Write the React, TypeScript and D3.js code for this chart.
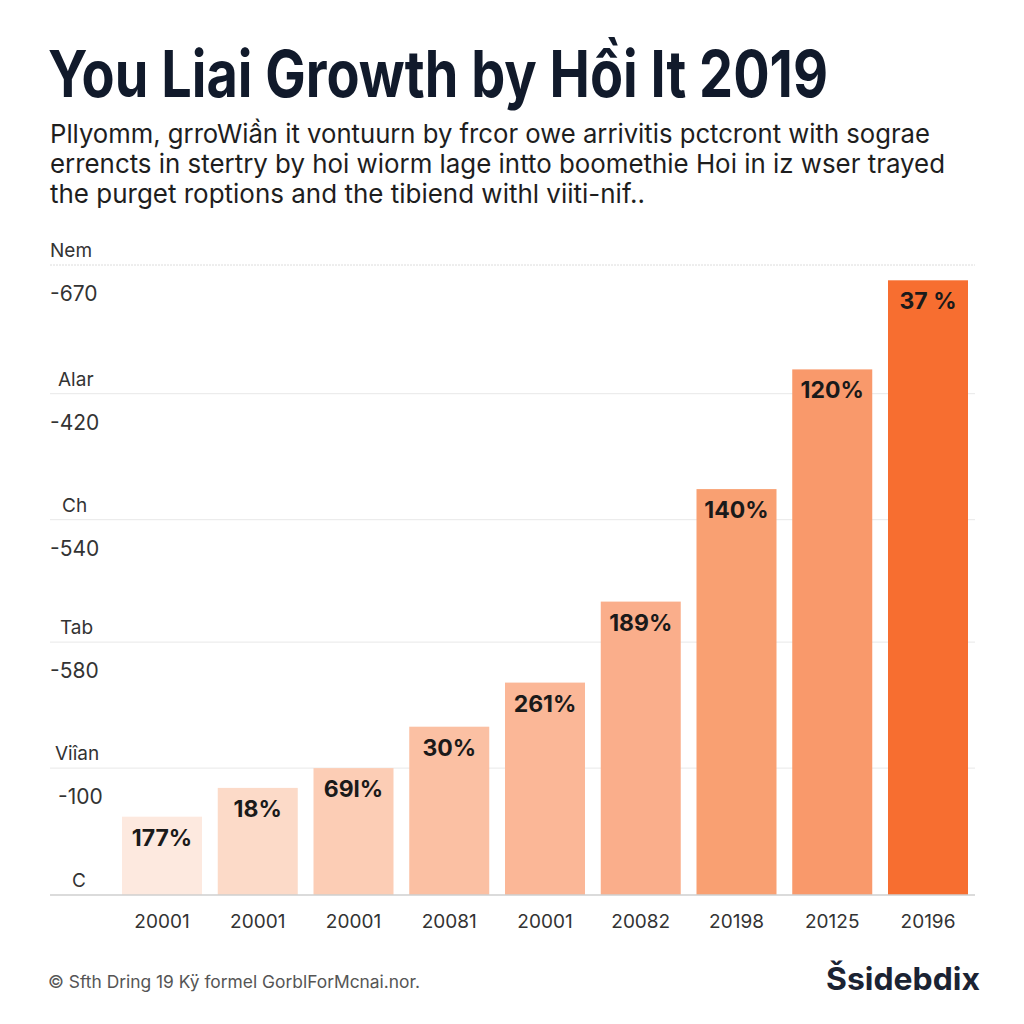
import React from "react";
import * as d3 from "d3";

const categories = ["20001", "20001", "20001", "20081", "20001", "20082", "20198", "20125", "20196"];
const values = [87, 119, 141, 187, 236, 326, 451, 584, 683];
const barLabels = ["177%", "18%", "69l%", "30%", "261%", "189%", "140%", "120%", "37 %"];
const barColors = ["#fde9df", "#fcdac8", "#fccdb5", "#fbc0a3", "#fbb797", "#faae8b", "#f9a072", "#f9996b", "#f76e30"];

const gridValues = [700, 557, 417, 281, 141, 0];
const gridNames = ["Nem", "Alar", "Ch", "Tab", "Viîan", "C"];
const gridNumbers = ["-670", "-420", "-540", "-580", "-100", ""];

const title = "You Liai Growth by Hồi It 2019";
const subtitleLines = [
  "Pllyomm, grroWiần it vontuurn by frcor owe arrivitis pctcront with sograe",
  "errencts in stertry by hoi wiorm lage intto boomethie Hoi in iz wser trayed",
  "the purget roptions and the tibiend withl viiti-nif..",
];
const footer = "© Sfth Dring 19 Kÿ formel GorblForMcnai.nor.";
const logo = "Šsidebdix";

export default function App() {
  const W = 1024, H = 1024;
  const x = d3.scaleBand<number>().domain(d3.range(categories.length)).range([122, 968]).paddingInner(0.1645).paddingOuter(0);
  const y = d3.scaleLinear().domain([0, 700]).range([895, 265]);
  const font = "Inter, 'Noto Sans', sans-serif";
  const nameOffsets = [0, 8, 12, 10, 5, 22];
  const subWidths = [880, 895, 595];

  return (
    <svg width={W} height={H} viewBox={`0 0 ${W} ${H}`} style={{ position: "absolute", left: 0, top: 0, background: "#fff" }} fontFamily={font}>
      <rect width={W} height={H} fill="#fff" />
      <text x={48} y={97} fontSize={65} fontWeight={700} fill="#111a2b" textLength={780} lengthAdjust="spacingAndGlyphs">{title}</text>
      {subtitleLines.map((l, i) => (
        <text key={i} x={50} y={143 + i * 30} fontSize={26} fill="#1e1e1e" textLength={subWidths[i]} lengthAdjust="spacingAndGlyphs">{l}</text>
      ))}

      {gridValues.map((v, i) => (
        <g key={i}>
          {i < gridValues.length - 1 && (
            <line x1={50} x2={975} y1={y(v)} y2={y(v)} stroke={i === 0 ? "#dcdcdc" : "#e8e8e8"} strokeWidth={1} strokeDasharray={i === 0 ? "2 1" : undefined} />
          )}
          <text x={50 + nameOffsets[i]} y={y(v) - 8} fontSize={19} fill="#333">{gridNames[i]}</text>
          {gridNumbers[i] && <text x={50 + (i === 4 ? 8 : 0)} y={y(v) + 36} fontSize={21} fill="#333">{gridNumbers[i]}</text>}
        </g>
      ))}

      {values.map((v, i) => (
        <g key={i}>
          <rect x={x(i)} y={y(v)} width={x.bandwidth()} height={y(0) - y(v)} fill={barColors[i]} />
          <text x={(x(i) as number) + x.bandwidth() / 2} y={y(v) + 29} textAnchor="middle" fontSize={23} fontWeight={700} fill="#1a1a1a">{barLabels[i]}</text>
          <text x={(x(i) as number) + x.bandwidth() / 2} y={928} textAnchor="middle" fontSize={19} fill="#333">{categories[i]}</text>
        </g>
      ))}
      <line x1={50} x2={975} y1={y(0)} y2={y(0)} stroke="#cfcfcf" strokeWidth={1.5} />

      <text x={48} y={988} fontSize={17} fill="#555" textLength={372} lengthAdjust="spacingAndGlyphs">{footer}</text>
      <text x={826} y={990} fontSize={31} fontWeight={700} fill="#1b2333" textLength={154} lengthAdjust="spacingAndGlyphs">{logo}</text>
    </svg>
  );
}
